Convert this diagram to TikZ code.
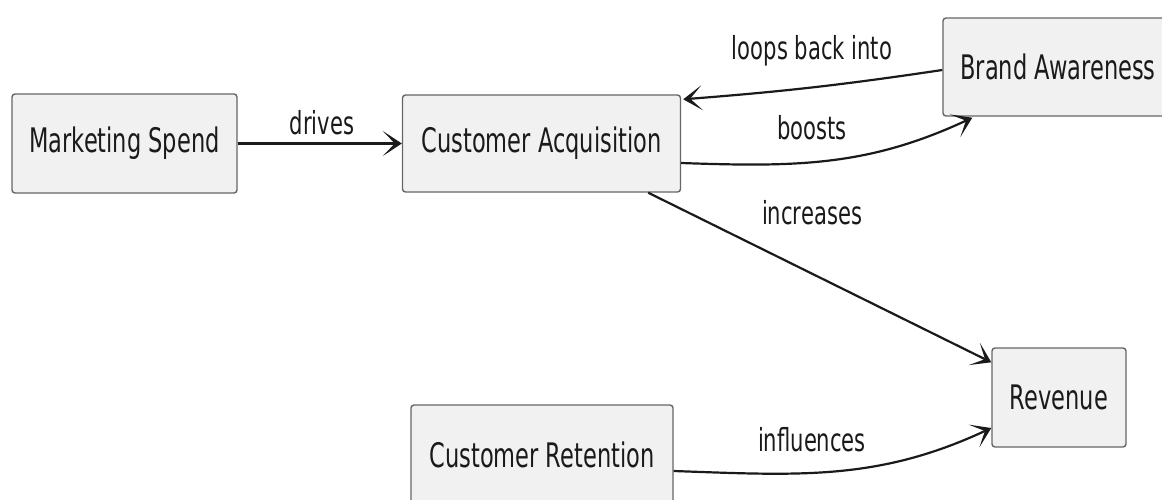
\documentclass[tikz,border=0pt]{standalone}
\usepackage{fontspec}
\usetikzlibrary{arrows.meta,calc}
\newfontfamily\diagfont[FakeStretch=0.666]{DejaVu Sans}
\definecolor{boxfill}{HTML}{F1F1F1}
\definecolor{boxline}{HTML}{666666}
\definecolor{ink}{HTML}{1A1A1A}
\begin{document}
\begin{tikzpicture}[x=1pt,y=-1pt,
  entity/.style={draw=boxline, line width=1.4pt, fill=boxfill, rounded corners=3pt,
    font=\diagfont\fontsize{33.8}{40}\selectfont, text=ink, inner sep=0pt},
  link/.style={draw=ink, line width=2.2pt, -{Stealth[length=19pt,width=25pt,inset=12pt]}},
  tag/.style={font=\diagfont\fontsize{31.7}{38}\selectfont, text=ink, inner sep=0pt}]
\useasboundingbox (0,0) rectangle (1162,499);
\clip (0,0) rectangle (1162,499);

% entities
\node[entity, minimum width=225pt, minimum height=99pt] (ms)  at (124.5,143.5) {Marketing Spend};
\node[entity, minimum width=278pt, minimum height=97pt] (ca)  at (541.5,143.5) {Customer Acquisition};
\node[entity, minimum width=230pt, minimum height=98pt] (ba)  at (1058,67)     {Brand Awareness};
\node[entity, minimum width=134pt, minimum height=99pt] (rev) at (1059,397.5)  {Revenue};
\node[entity, minimum width=262pt, minimum height=100pt] (cr) at (542,455)     {Customer Retention};

% relations
\draw[link] (ms.east) -- (ca.west);
\draw[link] ($(ba.west)+(0,3)$) to[bend left=2] ($(ca.north east)+(2,5)$);
\draw[link] ($(ca.east)+(0,19.5)$) to[out=-2, in=205] ($(ba.south west)+(30,1)$);
\draw[link] ($(ca.south east)+(-33,0)$) -- ($(rev.north west)+(0,15)$);
\draw[link] ($(cr.east)+(0,16)$) to[out=-2, in=205] ($(rev.west)+(0,30.5)$);

% relation labels
\node[tag] (l1) at (322,122.5) {drives};
\node[tag] (l2) at (812,51)    {loops back into};
\node[tag] (l3) at (812,127.5) {boosts};
\node[tag] (l4) at (812,213)   {increases};
\node[tag] (l5) at (812,440)   {influences};
\end{tikzpicture}
\end{document}
